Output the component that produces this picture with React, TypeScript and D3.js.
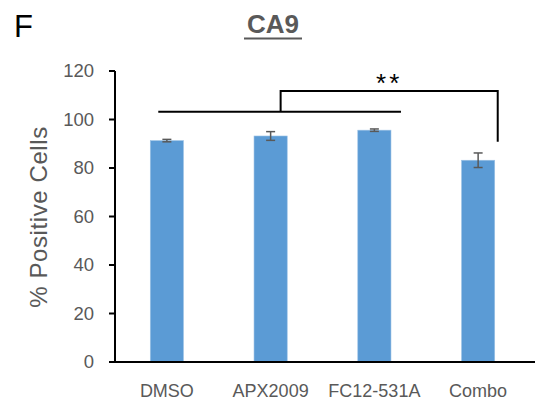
import React from 'react';
import * as d3 from 'd3';

// values
const groups = ['DMSO', 'APX2009', 'FC12-531A', 'Combo'];
const means = [91.3, 93.2, 95.6, 83.2];
const errs = [0.5, 1.8, 0.5, 3.0];
const yTicks = [0, 20, 40, 60, 80, 100, 120];

const W = 544;
const H = 405;
const margin = { top: 71, right: 14, bottom: 43, left: 115 };
const font = '"Liberation Sans", Arial, sans-serif';
const grey = '#595959';

export default function App() {
  const innerW = W - margin.left - margin.right;
  const innerH = H - margin.top - margin.bottom;

  const x = d3.scaleBand().domain(groups).range([0, innerW]).paddingInner(0.68).paddingOuter(0.34);
  const y = d3.scaleLinear().domain([0, 120]).range([innerH, 0]);
  const bw = x.bandwidth();

  // significance bracket, in data units / band positions
  const lowY = y(103.2);
  const highY = y(111.8);
  const dropY = y(90.8);
  const leftX = (x('DMSO') as number) + 8;
  const rightX = (x('FC12-531A') as number) + bw + 10;
  const midX = (x('APX2009') as number) + bw / 2 + 10;
  const endX = (x('Combo') as number) + bw + 3;
  const starX = (midX + endX) / 2;

  return (
    <svg width={W} height={H} style={{ position: 'absolute', left: 0, top: 0, background: '#fff' }}>
      <text x={14} y={37} fontFamily={font} fontSize={31} fill="#000">F</text>
      <text x={273} y={33} textAnchor="middle" fontFamily={font} fontSize={26} fontWeight="bold" fill={grey}>CA9</text>
      <line x1={244} x2={302} y1={38.5} y2={38.5} stroke={grey} strokeWidth={2} />

      <g transform={`translate(${margin.left},${margin.top})`}>
        {groups.map((g, i) => (
          <g key={g}>
            <rect x={x(g)} y={y(means[i])} width={bw} height={innerH - y(means[i])} fill="#5B9BD5" stroke="#9DC3E6" strokeWidth={0.6} />
            <line x1={(x(g) as number) + bw / 2} x2={(x(g) as number) + bw / 2} y1={y(means[i] + errs[i])} y2={y(means[i] - errs[i])} stroke={grey} strokeWidth={1.5} />
            <line x1={(x(g) as number) + bw / 2 - 4.5} x2={(x(g) as number) + bw / 2 + 4.5} y1={y(means[i] + errs[i])} y2={y(means[i] + errs[i])} stroke={grey} strokeWidth={1.5} />
            <line x1={(x(g) as number) + bw / 2 - 4.5} x2={(x(g) as number) + bw / 2 + 4.5} y1={y(means[i] - errs[i])} y2={y(means[i] - errs[i])} stroke={grey} strokeWidth={1.5} />
            <text x={(x(g) as number) + bw / 2} y={innerH + 35} textAnchor="middle" fontFamily={font} fontSize={18} fill={grey}>{g}</text>
          </g>
        ))}

        {/* axes */}
        <line x1={0} x2={0} y1={0} y2={innerH} stroke="#000" strokeWidth={2} />
        <line x1={-6} x2={innerW + 5} y1={innerH} y2={innerH} stroke="#000" strokeWidth={2} />
        {yTicks.map(t => (
          <g key={t}>
            <line x1={-6} x2={0} y1={y(t)} y2={y(t)} stroke="#000" strokeWidth={2} />
            <text x={-21} y={y(t)} dy="0.35em" textAnchor="end" fontFamily={font} fontSize={18.5} fill={grey}>{t}</text>
          </g>
        ))}
        <text transform={`translate(${39 - margin.left},${217 - margin.top}) rotate(-90)`} textAnchor="middle" dy="0.35em" fontFamily={font} fontSize={24} letterSpacing={0.6} fill={grey}>% Positive Cells</text>

        {/* bracket */}
        <g fill="none" stroke="#000" strokeWidth={2}>
          <line x1={leftX} x2={rightX} y1={lowY} y2={lowY} />
          <polyline points={`${midX},${lowY} ${midX},${highY} ${endX},${highY} ${endX},${dropY}`} />
        </g>
        <text x={starX} y={highY + 1} textAnchor="middle" fontFamily={font} fontSize={26} letterSpacing={3} fill="#000">**</text>
      </g>
    </svg>
  );
}
